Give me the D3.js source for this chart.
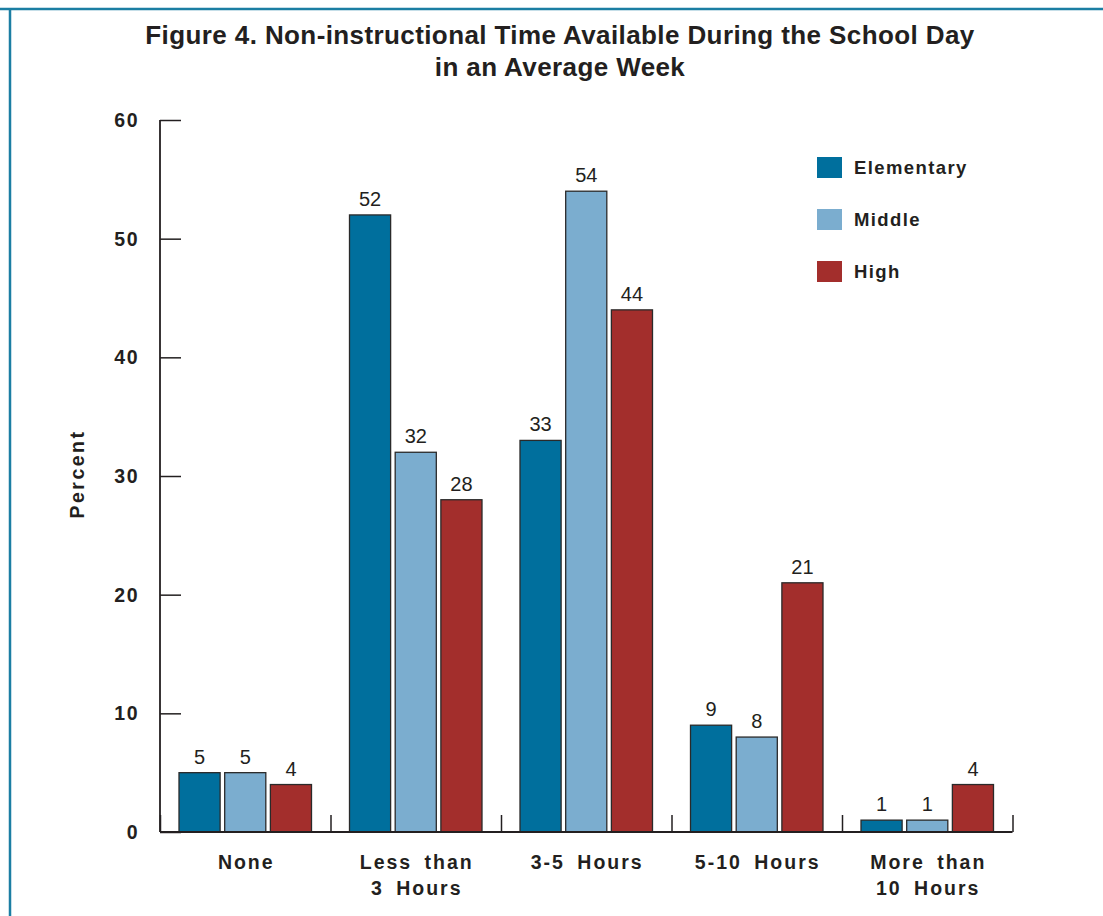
<!DOCTYPE html>
<html><head><meta charset="utf-8">
<script src="https://cdn.jsdelivr.net/npm/d3@7"></script>
<style>
body{margin:0;background:#fff;}
svg{display:block;}
text{font-family:"Liberation Sans",Arial,sans-serif;fill:#231f20;}
</style></head>
<body><svg id="c" width="1103" height="916"></svg>
<script>
const categories = [["None"],["Less than","3 Hours"],["3-5 Hours"],["5-10 Hours"],["More than","10 Hours"]];
const series = ["Elementary","Middle","High"];
const colors = ["#006f9d","#7badcf","#a32e2c"];
const elementary = [5,52,33,9,1];
const middle = [5,32,54,8,1];
const high = [4,28,44,21,4];
const yTicks = [0,10,20,30,40,50,60];
const titleLines = ["Figure 4. Non-instructional Time Available During the School Day","in an Average Week"];

const values = [elementary, middle, high];
const svg = d3.select("#c");
const catKeys = categories.map((c,i)=>i);

// frame
svg.append("line").attr("x1",0).attr("x2",1103).attr("y1",9).attr("y2",9).attr("stroke","#1b7ea3").attr("stroke-width",2.5);
svg.append("line").attr("x1",10).attr("x2",10).attr("y1",8).attr("y2",916).attr("stroke","#1b7ea3").attr("stroke-width",2.5);

// title
svg.append("g").selectAll("text").data(titleLines).join("text")
  .attr("x",560).attr("y",(d,i)=>44+i*32).attr("text-anchor","middle")
  .attr("font-size",26).attr("font-weight","bold").attr("letter-spacing",0.4).text(d=>d);

const y = d3.scaleLinear().domain([0,60]).range([832,120]);
const x = d3.scaleBand().domain(catKeys).range([160,1012.5]);
const xs = d3.scaleBand().domain(series).range([19, x.bandwidth()-19]).paddingInner(0.1);

// y axis
const yAxis = d3.axisRight(y).tickValues(yTicks).tickSize(21).tickFormat("");
const ga = svg.append("g").attr("transform","translate(160,0)").call(yAxis);
ga.select(".domain").remove();
ga.selectAll(".tick line").attr("stroke","#231f20").attr("stroke-width",1.5);
svg.append("line").attr("x1",160).attr("x2",160).attr("y1",y(60)).attr("y2",y(0)).attr("stroke","#231f20").attr("stroke-width",1.8);
svg.append("g").selectAll("text").data(yTicks).join("text")
  .attr("x",139).attr("y",d=>y(d)).attr("dy","0.36em").attr("text-anchor","end")
  .attr("font-size",19.5).attr("font-weight","bold").attr("letter-spacing",1.5).text(d=>d);
svg.append("text").attr("transform","translate(84,474) rotate(-90)").attr("text-anchor","middle")
  .attr("font-size",19.5).attr("font-weight","bold").attr("letter-spacing",2.5).text("Percent");

// x axis
const xAxis = d3.axisTop(d3.scaleLinear().domain([0,5]).range([160,1012.5])).tickValues([0,1,2,3,4,5]).tickSize(17).tickFormat("");
const gx = svg.append("g").attr("transform","translate(0,832)").call(xAxis);
gx.select(".domain").remove();
gx.selectAll(".tick line").attr("stroke","#231f20").attr("stroke-width",1.5);

// bars
const groups = svg.append("g").selectAll("g").data(catKeys).join("g")
  .attr("transform",d=>`translate(${x(d)},0)`);
groups.selectAll("rect").data(ci=>series.map((s,si)=>({s,si,v:values[si][ci]}))).join("rect")
  .attr("x",d=>xs(d.s)).attr("width",xs.bandwidth())
  .attr("y",d=>y(d.v)).attr("height",d=>y(0)-y(d.v))
  .attr("fill",d=>colors[d.si]).attr("stroke","#2a2a2a").attr("stroke-width",1.3);
groups.selectAll("text.v").data(ci=>series.map((s,si)=>({s,si,v:values[si][ci]}))).join("text")
  .attr("class","v").attr("x",d=>xs(d.s)+xs.bandwidth()/2).attr("y",d=>y(d.v)-9)
  .attr("text-anchor","middle").attr("font-size",20).text(d=>d.v);

svg.append("line").attr("x1",160).attr("x2",1012.5).attr("y1",832).attr("y2",832).attr("stroke","#231f20").attr("stroke-width",1.8);

// category labels
const cl = svg.append("g").selectAll("text").data(catKeys).join("text")
  .attr("x",d=>x(d)+x.bandwidth()/2+1).attr("y",869).attr("text-anchor","middle")
  .attr("font-size",19.5).attr("font-weight","bold").attr("letter-spacing",2).attr("word-spacing",5);
cl.selectAll("tspan").data(d=>categories[d]).join("tspan")
  .attr("x",function(){return d3.select(this.parentNode).attr("x");})
  .attr("dy",(d,i)=>i?26:0).text(d=>d);

// legend
const lg = svg.append("g").selectAll("g").data(series).join("g")
  .attr("transform",(d,i)=>`translate(817,${157+i*52})`);
lg.append("rect").attr("width",25).attr("height",21).attr("fill",(d,i)=>colors[i]);
lg.append("text").attr("x",37).attr("y",17).attr("font-size",18.5)
  .attr("font-weight","bold").attr("letter-spacing",1.4).text(d=>d);
</script></body></html>
